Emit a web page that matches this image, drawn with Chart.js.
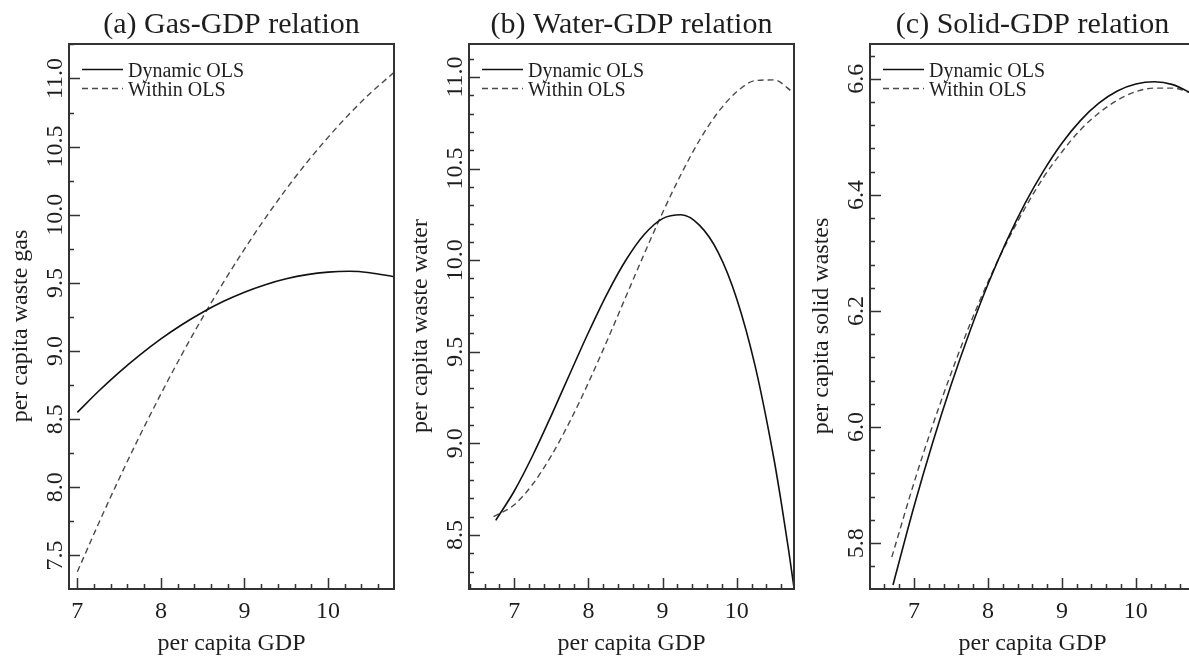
<!DOCTYPE html>
<html>
<head>
<meta charset="utf-8">
<script src="https://cdn.jsdelivr.net/npm/chart.js@4.4.0/dist/chart.umd.min.js"></script>
<style>
html, body { margin: 0; padding: 0; background: #fff; overflow: hidden; width: 1189px; height: 657px; }
canvas { position: absolute; left: 0; top: 0; }
</style>
</head>
<body>
<canvas id="gas" width="1189" height="657"></canvas>
<canvas id="water" width="1189" height="657"></canvas>
<canvas id="solid" width="1200" height="657"></canvas>
<script>
// (a) gas
const gdpGas = [7.0, 7.25, 7.5, 7.75, 8.0, 8.25, 8.5, 8.75, 9.0, 9.25, 9.5, 9.75, 10.0, 10.25, 10.5, 10.79];
const gasDynamic = [8.550, 8.703, 8.844, 8.972, 9.089, 9.193, 9.285, 9.365, 9.432, 9.487, 9.530, 9.561, 9.579, 9.585, 9.575, 9.545];
const gasWithin = [7.380, 7.729, 8.063, 8.382, 8.685, 8.974, 9.247, 9.505, 9.748, 9.976, 10.189, 10.386, 10.568, 10.736, 10.888, 11.045];
const gasYTicks = [7.5, 8.0, 8.5, 9.0, 9.5, 10.0, 10.5, 11.0];

// (b) water
const gdpWaterDyn = [6.75, 7.0, 7.25, 7.5, 7.75, 8.0, 8.25, 8.5, 8.75, 9.0, 9.25, 9.5, 9.75, 10.0, 10.25, 10.5, 10.6, 10.7, 10.77];
const waterDynamic = [8.58, 8.74, 8.935, 9.153, 9.38, 9.605, 9.815, 9.997, 10.139, 10.227, 10.248, 10.19, 10.043, 9.79, 9.42, 8.92, 8.68, 8.418, 8.22];
const gdpWaterWithin = [6.72, 7.0, 7.25, 7.5, 7.75, 8.0, 8.25, 8.5, 8.75, 9.0, 9.25, 9.5, 9.75, 10.0, 10.25, 10.5, 10.77];
const waterWithin = [8.60, 8.665, 8.778, 8.933, 9.12, 9.331, 9.559, 9.796, 10.032, 10.259, 10.469, 10.656, 10.808, 10.919, 10.98, 10.984, 10.913];
const waterYTicks = [8.5, 9.0, 9.5, 10.0, 10.5, 11.0];

// (c) solid
const gdpSolidDyn = [6.716, 7.0, 7.25, 7.5, 7.75, 8.0, 8.25, 8.5, 8.75, 9.0, 9.25, 9.5, 9.75, 10.0, 10.25, 10.5, 10.8];
const solidDynamic = [5.728, 5.863, 5.972, 6.072, 6.163, 6.246, 6.320, 6.385, 6.441, 6.489, 6.528, 6.558, 6.579, 6.591, 6.595, 6.590, 6.572];
const gdpSolidWithin = [6.70, 7.0, 7.25, 7.5, 7.75, 8.0, 8.25, 8.5, 8.75, 9.0, 9.25, 9.5, 9.75, 10.0, 10.25, 10.5, 10.8];
const solidWithin = [5.776, 5.904, 6.002, 6.092, 6.175, 6.250, 6.317, 6.377, 6.430, 6.474, 6.512, 6.541, 6.563, 6.578, 6.584, 6.584, 6.573];
const solidYTicks = [5.8, 6.0, 6.2, 6.4, 6.6];

const gdpTicks = [7, 8, 9, 10];
const seriesNames = ['Dynamic OLS', 'Within OLS'];

const serif = '"Liberation Serif", "Times New Roman", serif';
const ink = '#1e1e1e';

function pts(xs, ys) {
    return xs.map((x, i) => ({ x: x, y: ys[i] }));
}

function minorTicks(min, max, step) {
    const out = [];
    for (let i = Math.ceil(min / step - 1e-9); i * step <= max + 1e-9; i++) out.push(i * step);
    return out;
}

// frame, inward ticks, rotated y labels, titles and legend
function deco(p) {
    return {
        id: 'deco',
        afterDraw(chart) {
            const { ctx, chartArea: a, scales: { x, y } } = chart;
            ctx.save();
            ctx.strokeStyle = '#333';
            ctx.lineWidth = 2;
            ctx.strokeRect(a.left, a.top, a.right - a.left, a.bottom - a.top);

            ctx.lineWidth = 1.5;
            ctx.beginPath();
            minorTicks(x.min, x.max, 0.2).forEach(v => {
                const px = Math.round(x.getPixelForValue(v)) + 0.5;
                const major = Math.abs(v - Math.round(v)) < 1e-6;
                ctx.moveTo(px, a.bottom);
                ctx.lineTo(px, a.bottom - (major ? 11 : 5));
            });
            minorTicks(y.min, y.max, p.yMinor).forEach(v => {
                const py = Math.round(y.getPixelForValue(v)) + 0.5;
                const major = p.yTicks.some(t => Math.abs(t - v) < 1e-6);
                ctx.moveTo(a.left, py);
                ctx.lineTo(a.left + (major ? 11 : 5), py);
            });
            ctx.stroke();

            ctx.fillStyle = ink;
            ctx.font = '24px ' + serif;
            ctx.textAlign = 'center';
            ctx.textBaseline = 'alphabetic';
            gdpTicks.forEach(v => ctx.fillText(String(v), x.getPixelForValue(v), 618));
            p.yTicks.forEach(v => {
                ctx.save();
                ctx.translate(a.left - 7, y.getPixelForValue(v));
                ctx.rotate(-Math.PI / 2);
                ctx.fillText(v.toFixed(1), 0, 0);
                ctx.restore();
            });

            const cx = (a.left + a.right) / 2;
            ctx.fillText('per capita GDP', cx, 650);
            ctx.save();
            ctx.translate(a.left - 42, 326);
            ctx.rotate(-Math.PI / 2);
            ctx.fillText(p.yTitle, 0, 0);
            ctx.restore();

            ctx.font = '30px ' + serif;
            ctx.fillText(p.title, cx, 33);

            // legend
            ctx.font = '20px ' + serif;
            ctx.textAlign = 'left';
            chart.data.datasets.forEach((ds, i) => {
                const ly = 69.5 + i * 19;
                ctx.strokeStyle = ds.borderColor;
                ctx.lineWidth = ds.borderWidth;
                ctx.setLineDash(ds.borderDash || []);
                ctx.beginPath();
                ctx.moveTo(a.left + 13, ly);
                ctx.lineTo(a.left + 54, ly);
                ctx.stroke();
                ctx.fillText(ds.label, a.left + 59, ly + 7.5);
            });
            ctx.restore();
        }
    };
}

function panel(id, p) {
    const el = document.getElementById(id);
    new Chart(el, {
        type: 'line',
        data: {
            datasets: [
                { label: seriesNames[0], data: pts(p.xDyn, p.dyn), borderColor: '#111', borderWidth: 1.6,
                  pointRadius: 0, cubicInterpolationMode: 'monotone', fill: false },
                { label: seriesNames[1], data: pts(p.xWithin, p.within), borderColor: '#4a4a4a', borderWidth: 1.4,
                  borderDash: [6, 4], pointRadius: 0, cubicInterpolationMode: 'monotone', fill: false }
            ]
        },
        options: {
            responsive: false,
            animation: false,
            events: [],
            layout: { padding: { left: p.left, right: el.width - p.right, top: 44, bottom: 657 - 589 } },
            scales: {
                x: { type: 'linear', min: p.xMin, max: p.xMax, display: false },
                y: { type: 'linear', min: p.yMin, max: p.yMax, display: false }
            },
            plugins: { legend: { display: false }, tooltip: { enabled: false } }
        },
        plugins: [deco(p)]
    });
}

panel('gas', {
    title: '(a) Gas-GDP relation', yTitle: 'per capita waste gas',
    xDyn: gdpGas, dyn: gasDynamic, xWithin: gdpGas, within: gasWithin,
    yTicks: gasYTicks, yMinor: 0.25,
    xMin: 6.9, xMax: 10.79, yMin: 7.254, yMax: 11.253, left: 69, right: 394
});
panel('water', {
    title: '(b) Water-GDP relation', yTitle: 'per capita waste water',
    xDyn: gdpWaterDyn, dyn: waterDynamic, xWithin: gdpWaterWithin, within: waterWithin,
    yTicks: waterYTicks, yMinor: 0.1,
    xMin: 6.389, xMax: 10.773, yMin: 8.205, yMax: 11.18, left: 469, right: 794
});
panel('solid', {
    title: '(c) Solid-GDP relation', yTitle: 'per capita solid wastes',
    xDyn: gdpSolidDyn, dyn: solidDynamic, xWithin: gdpSolidWithin, within: solidWithin,
    yTicks: solidYTicks, yMinor: 0.04,
    xMin: 6.405, xMax: 10.8, yMin: 5.721, yMax: 6.66, left: 870, right: 1195
});
</script>
</body>
</html>
